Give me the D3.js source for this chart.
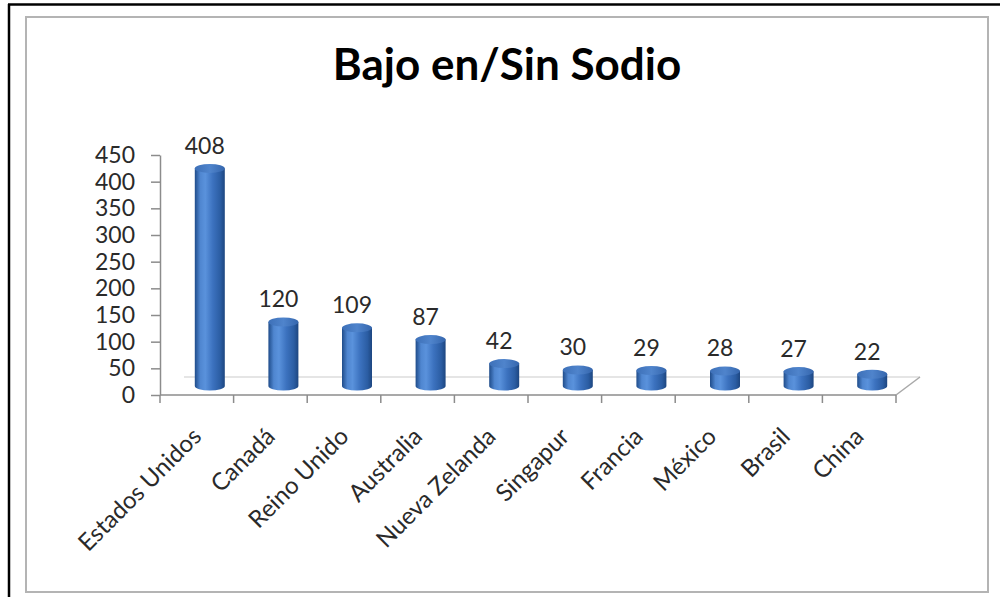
<!DOCTYPE html>
<html>
<head>
<meta charset="utf-8">
<script src="https://cdn.jsdelivr.net/npm/d3@7"></script>
<style>
  html, body { margin: 0; padding: 0; background: #fff; }
  svg { display: block; }
  text { font-family: Lato, "Liberation Sans", sans-serif; }
</style>
</head>
<body>
<svg id="chart" width="1000" height="597"></svg>
<script>
const title = "Bajo en/Sin Sodio";
const categories = ["Estados Unidos", "Canadá", "Reino Unido", "Australia", "Nueva Zelanda", "Singapur", "Francia", "México", "Brasil", "China"];
const values = [408, 120, 109, 87, 42, 30, 29, 28, 27, 22];
const yTicks = [0, 50, 100, 150, 200, 250, 300, 350, 400, 450];

const svg = d3.select("#chart");

// frames
svg.append("rect").attr("x", 0).attr("y", 0).attr("width", 1000).attr("height", 597).attr("fill", "#fff");
svg.append("line").attr("x1", 8).attr("x2", 1000).attr("y1", 4.5).attr("y2", 4.5).attr("stroke", "#000").attr("stroke-width", 2.5);
svg.append("line").attr("x1", 9).attr("x2", 9).attr("y1", 4).attr("y2", 597).attr("stroke", "#000").attr("stroke-width", 2.5);
svg.append("rect").attr("x", 26).attr("y", 17).attr("width", 962).attr("height", 575)
  .attr("fill", "none").attr("stroke", "#b4b4b4").attr("stroke-width", 2);

const defs = svg.append("defs");
const g1 = defs.append("linearGradient").attr("id", "cyl").attr("x1", "0%").attr("x2", "100%").attr("y1", "0%").attr("y2", "0%");
[["0%", "#1f4c8a"], ["18%", "#4f86d0"], ["35%", "#5a92dc"], ["60%", "#3c72bf"], ["85%", "#2b5da3"], ["100%", "#1d4680"]]
  .forEach(([o, c]) => g1.append("stop").attr("offset", o).attr("stop-color", c));
const g2 = defs.append("linearGradient").attr("id", "cap").attr("x1", "0%").attr("x2", "100%").attr("y1", "0%").attr("y2", "0%");
[["0%", "#3d70b8"], ["50%", "#4f84cc"], ["100%", "#3566ad"]]
  .forEach(([o, c]) => g2.append("stop").attr("offset", o).attr("stop-color", c));

// scales
const x = d3.scaleBand().domain(categories).range([160, 896]).padding(0);
const y = d3.scaleLinear().domain([0, 450]).range([395, 155]);
const depthX = 24, depthY = -18;

// floor
svg.append("line").attr("x1", 160 + depthX).attr("x2", 896 + depthX).attr("y1", y(0) + depthY).attr("y2", y(0) + depthY)
  .attr("stroke", "#dcdcdc").attr("stroke-width", 1.5);
svg.append("line").attr("x1", 896).attr("x2", 896 + depthX).attr("y1", y(0)).attr("y2", y(0) + depthY)
  .attr("stroke", "#a8a8a8").attr("stroke-width", 1.5);

// y axis
const yAxis = svg.append("g").attr("transform", "translate(160,0)")
  .call(d3.axisLeft(y).tickValues(yTicks).tickSize(9).tickPadding(16).tickSizeOuter(0));
yAxis.select(".domain").attr("stroke", "#8c8c8c").attr("stroke-width", 1.5);
yAxis.selectAll(".tick line").attr("stroke", "#8c8c8c").attr("stroke-width", 1.5);
yAxis.selectAll(".tick text").attr("font-size", 23).attr("fill", "#2a2a2a").attr("font-family", "Lato, sans-serif");

// x axis line and ticks
svg.append("line").attr("x1", 160).attr("x2", 896).attr("y1", y(0)).attr("y2", y(0))
  .attr("stroke", "#8c8c8c").attr("stroke-width", 1.5);
const tickPositions = categories.map(c => x(c)).concat([x.range()[1]]);
svg.selectAll(".xtick").data(tickPositions).enter().append("line")
  .attr("x1", d => d).attr("x2", d => d).attr("y1", y(0)).attr("y2", y(0) + 8)
  .attr("stroke", "#8c8c8c").attr("stroke-width", 1.5);

// bars (cylinders)
const rx = 15, ry = 4.5;
const bw = x.bandwidth();
const bars = svg.selectAll(".bar").data(categories.map((c, i) => ({ c, v: values[i] }))).enter().append("g");
bars.append("path")
  .attr("d", d => {
    const cx = x(d.c) + bw / 2 + 13;
    const yb = y(0) - 9, yt = y(d.v) - 9;
    return `M${cx - rx},${yt} L${cx - rx},${yb} A${rx},${ry} 0 0 0 ${cx + rx},${yb} L${cx + rx},${yt} Z`;
  })
  .attr("fill", "url(#cyl)");
bars.append("ellipse")
  .attr("cx", d => x(d.c) + bw / 2 + 13)
  .attr("cy", d => y(d.v) - 9)
  .attr("rx", rx).attr("ry", ry)
  .attr("fill", "url(#cap)");

// value labels
bars.append("text")
  .attr("x", d => x(d.c) + bw / 2 + 8)
  .attr("y", d => y(d.v) - 9 - 23)
  .attr("dy", "0.36em")
  .attr("text-anchor", "middle")
  .attr("font-size", 23)
  .attr("fill", "#2a2a2a")
  .text(d => d.v);

// category labels
svg.selectAll(".xlabel").data(categories).enter().append("text")
  .attr("transform", c => `translate(${x(c) + bw / 2 + 6},438) rotate(-45)`)
  .attr("text-anchor", "end")
  .attr("font-size", 24)
  .attr("fill", "#2a2a2a")
  .text(c => c);

// title
svg.append("text")
  .attr("x", 507).attr("y", 80)
  .attr("text-anchor", "middle")
  .attr("font-size", 44)
  .attr("font-weight", "bold")
  .attr("fill", "#000")
  .text(title);
</script>
</body>
</html>
